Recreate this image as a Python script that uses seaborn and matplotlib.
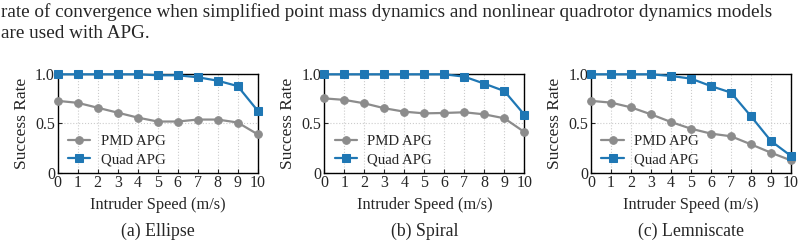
import seaborn as sns
import matplotlib.pyplot as plt
import numpy as np


sns.set_style('ticks')
plt.rcParams['font.family'] = ['Liberation Serif', 'DejaVu Serif']

speeds = np.arange(0, 11)

ellipse_pmd = [0.73, 0.71, 0.66, 0.61, 0.56, 0.52, 0.52, 0.54, 0.54, 0.51, 0.39]
ellipse_quad = [1.0, 1.0, 1.0, 1.0, 1.0, 0.99, 0.99, 0.97, 0.935, 0.88, 0.63]

spiral_pmd = [0.755, 0.74, 0.705, 0.655, 0.62, 0.603, 0.607, 0.614, 0.593, 0.553, 0.414]
spiral_quad = [1.0, 1.0, 1.0, 1.0, 1.0, 1.0, 1.0, 0.976, 0.905, 0.83, 0.59]

lemni_pmd = [0.73, 0.712, 0.664, 0.593, 0.515, 0.447, 0.397, 0.37, 0.288, 0.203, 0.125]
lemni_quad = [1.0, 1.0, 1.0, 1.0, 0.983, 0.956, 0.88, 0.814, 0.573, 0.322, 0.17]

panels = [('(a) Ellipse', ellipse_pmd, ellipse_quad),
          ('(b) Spiral', spiral_pmd, spiral_quad),
          ('(c) Lemniscate', lemni_pmd, lemni_quad)]

gray = '#8c8c8c'
blue = '#1f77b4'

fig = plt.figure(figsize=(8.05, 2.46), dpi=100)

fig.text(0.001, 0.95, 'rate of convergence when simplified point mass dynamics and nonlinear quadrotor dynamics models',
         fontsize=13.8, va='center', ha='left')
fig.text(0.001, 0.865, 'are used with APG.', fontsize=13.8, va='center', ha='left')

lefts = [0.0717, 0.4029, 0.7342]
for left, (title, pmd, quad) in zip(lefts, panels):
    ax = fig.add_axes([left, 0.298, 0.2484, 0.40])
    sns.lineplot(x=speeds, y=pmd, ax=ax, color=gray, marker='o', markersize=5.5,
                 markeredgecolor=gray, linewidth=1.6, label='PMD APG', clip_on=False, zorder=3)
    sns.lineplot(x=speeds, y=quad, ax=ax, color=blue, marker='s', markersize=5.5,
                 markeredgecolor=blue, linewidth=1.6, label='Quad APG', clip_on=False, zorder=4)
    ax.set_xlim(0, 10)
    ax.set_ylim(0, 1.0)
    ax.set_xticks(speeds)
    ax.set_yticks([0, 0.5, 1.0])
    ax.set_yticklabels(['0', '0.5', '1.0'])
    ax.grid(True, linestyle=':', color='#cccccc', linewidth=0.8)
    ax.tick_params(direction='in', labelsize=11.5, length=3, width=0.8, pad=2)
    for s in ax.spines.values():
        s.set_color('black')
        s.set_linewidth(1.0)
    ax.set_xlabel('Intruder Speed (m/s)', fontsize=11.8, labelpad=4)
    ax.set_ylabel('Success Rate', fontsize=12.5, labelpad=4)
    ax.legend(loc='lower left', bbox_to_anchor=(0.0, -0.04), frameon=False, fontsize=10.7,
              handlelength=1.5, handletextpad=0.7, borderaxespad=0.3, labelspacing=0.3)
    ax.text(0.5, -0.6, title, transform=ax.transAxes, ha='center', va='center', fontsize=12.8)

fig.savefig('out.png', dpi=100)
